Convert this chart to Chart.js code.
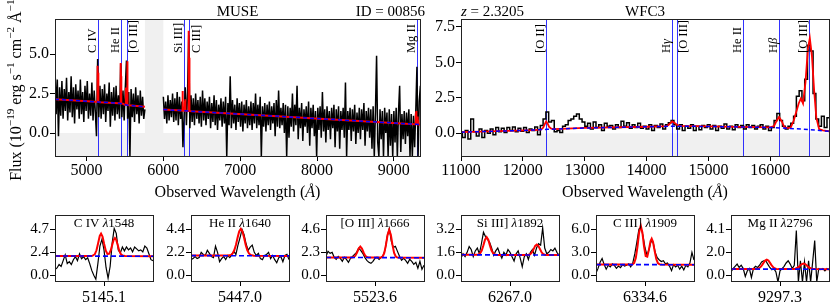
<!DOCTYPE html>
<html>
<head>
<meta charset="utf-8">
<script src="https://cdn.jsdelivr.net/npm/chart.js@4.4.1/dist/chart.umd.min.js"></script>
<style>
  body { margin: 0; background: #fff; width: 831px; height: 307px; overflow: hidden; position: relative; }
</style>
</head>
<body>
<script>
// ---------- data ----------
const museStartA = 4590, museStartB = 6000, museStep = 15;
const museFluxA = [
  4.3, 1.2, 3.4, -0.2, 2.9, 1.1, 3.3, 0.9, 2.8, 1.4,
  3.5, 0.8, 2.6, 1.3, 3.6, 1.0, 2.9, 0.6, 3.1, 1.5,
  2.7, 0.9, 3.4, 1.2, 2.6, 0.7, 3.0, 1.4, 3.3, 0.9,
  2.5, 1.1, 3.2, 0.8, 2.7, 1.3, -0.2, 4.7, 1.0, 3.0,
  0.9, 2.8, 1.2, 3.1, 0.7, 2.5, 1.4, 3.2, 0.4, 2.6,
  1.1, 2.9, 0.8, 3.0, 1.2, 2.4, 0.9, 4.4, 1.0, 2.7,
  0.8, 2.9, 4.6, 0.9, 2.6, -1.5, 2.8, 1.0, 2.5, 0.7,
  2.9, 1.2, 2.4, 0.6, 2.7, 1.1, 2.3, 0.9, 1.5
];
const museFluxB = [
  2.3, 0.9, 2.0, 0.6, 2.4, 0.8, 2.1, 1.0, 2.5, 0.7,
  2.2, 0.8, 2.6, 0.5, 2.3, 0.9, 2.0, -0.9, 1.1, 2.9,
  0.5, 2.6, 6.2, 0.3, 2.4, 0.7, 2.2, 0.5, 2.5, 0.9,
  2.1, 0.6, 2.3, 0.4, 2.7, 0.8, 2.2, 0.5, 2.0, 0.9,
  2.3, 0.3, 1.9, 0.7, 2.4, 0.5, 2.1, 0.2, 1.8, 0.8,
  2.2, 0.4, 2.0, 0.6, 2.3, -1.5, 1.9, 0.5, 3.6, 0.3,
  2.1, 0.6, 1.8, 0.2, 2.2, 0.7, 1.9, 0.4, 2.0, 0.1,
  1.8, 0.6, 2.1, 0.3, 1.7, 0.5, 2.0, 0.2, 1.9, 0.6,
  2.5, 0.3, 1.8, 0.5, 2.3, -1.5, 1.7, 0.4, 1.9, 0.1,
  1.8, 0.5, 2.0, 0.2, 1.7, 0.6, 1.9, -0.2, 2.1, 0.4,
  2.7, 0.3, 1.6, 0.5, 1.9, 0.0, 1.8, -1.5, 1.7, -0.3,
  1.6, 0.4, 2.5, 0.1, 1.8, 0.5, 3.0, -0.4, 1.6, 0.3,
  1.9, -0.5, 1.5, 0.4, 1.7, 0.0, 2.0, -0.8, 1.6, 0.3,
  1.8, -0.2, 1.4, -1.5, 1.6, 0.2, 1.7, -0.3, 2.6, 0.1,
  1.5, -0.6, 1.7, 0.2, 1.4, -0.4, 1.6, 0.3, 1.8, -0.9,
  1.5, 0.1, 1.7, -1.0, 1.4, 0.2, 1.6, -0.3, 3.2, -1.5,
  1.4, 0.2, 1.6, -0.5, 1.5, 0.1, 1.8, -0.7, 1.3, 0.0,
  1.6, -0.4, 1.5, 0.2, 1.9, -0.8, 1.4, 0.1, 1.6, -0.3,
  1.5, -1.0, 1.7, -1.5, 1.3, 4.9, -0.6, -1.5, 1.5, -0.4,
  1.4, -1.5, 1.6, 0.0, 1.3, -1.5, 1.5, -0.8, 1.2, -1.5,
  1.4, -0.6, 1.6, -1.5, 1.3, 3.0, -1.2, 1.2, -0.4, 1.4,
  -0.7, 1.3, -0.2, 1.5, -1.5, 1.2, -1.5, 1.1, -0.9, 1.4,
  4.2, -1.5, 2.0, 3.0
];
const museCont = [[4590, 2.15], [5145.1, 1.97], [5447.0, 1.88], [5523.6, 1.78], [5760, 1.66], [5880, null],
  [6000, 1.49], [6267.0, 1.42], [6334.6, 1.39], [9297.3, 0.55], [9345, 0.54]];
const museLines = [5145.1, 5447.0, 5523.6, 6267.0, 6334.6, 9297.3];
const museLineNames = ['C IV', 'He II', '[O III]', 'Si III]', 'C III]', 'Mg II'];
const museLabelSide = ['l', 'l', 'r', 'l', 'r', 'l'];

const wfc3Start = 11000, wfc3Step = 45;
const wfc3Flux = [
  0.1, -0.3, 0.2, -0.4, 1.0, 0.1, -0.2, 0.3, -0.3, 0.2,
  0.0, 0.3, -0.1, 0.4, 0.1, 0.35, 0.05, 0.4, 0.2, 0.45,
  0.1, 0.35, 0.15, 0.4, 0.05, 0.3, 0.2, 0.45, -0.1, 0.55,
  1.0, 1.5, 0.8, 0.9, 0.1, 0.2, 0.05, 0.5, 0.6, 0.9,
  1.0, 1.2, 1.35, 1.0, 0.8, 0.5, 0.7, 0.3, 0.8, 0.4,
  0.6, 0.2, 0.7, 0.5, 0.55, 0.3, 0.6, 0.4, 0.85, 0.5,
  0.75, 0.35, 0.6, 0.4, 0.7, 0.35, 0.5, 0.3, 0.6, 0.2,
  0.55, 0.4, 0.65, 0.3, 0.6, 0.75, 0.9, 0.6, 0.3, 0.6,
  0.2, 0.5, 0.35, 0.6, 0.2, 0.5, 0.25, 0.55, 0.4, 0.6,
  0.3, 0.55, 0.2, 0.5, 0.35, 0.65, 0.3, 0.5, 0.25, 0.6,
  0.4, 0.55, 0.3, 0.6, 0.4, 0.55, 0.3, 0.5, 0.6, 0.3,
  0.5, 0.2, 0.4, 0.9, 1.4, 0.9, 0.5, 0.3, 0.5, 0.7,
  1.2, 2.6, 3.0, 2.3, 3.8, 6.2, 5.8, 2.8, 1.0, 0.5,
  1.2, 0.4, 1.1, -0.3
];
const wfc3Model = [[11000, 0.08], [12200, 0.22], [12300, 0.27], [12330, 0.4], [12355, 0.65], [12376, 0.84],
  [12400, 0.7], [12425, 0.45], [12460, 0.32], [12500, 0.3], [13000, 0.38], [14000, 0.46], [14330, 0.5],
  [14370, 0.65], [14414, 0.84], [14450, 0.75], [14490, 0.6], [14540, 0.52], [15000, 0.49], [15500, 0.45],
  [16000, 0.41], [16060, 0.5], [16100, 0.85], [16142, 1.15], [16185, 0.85], [16225, 0.45], [16270, 0.36],
  [16330, 0.4], [16380, 0.9], [16420, 1.5], [16460, 2.1], [16495, 2.45], [16530, 2.1], [16570, 3.6],
  [16610, 6.0], [16640, 6.7], [16675, 5.4], [16710, 3.0], [16745, 1.1], [16790, 0.3], [16850, 0.2], [16960, 0.14]];
const wfc3Cont = [[11000, 0.08], [12000, 0.2], [12400, 0.28], [13000, 0.37], [14000, 0.46], [14500, 0.5],
  [15000, 0.48], [15500, 0.45], [16000, 0.41], [16500, 0.3], [16960, 0.14]];
const wfc3Lines = [12376, 14414, 14488, 15560, 16142, 16626];
const wfc3LineNames = ['[O II]', 'H*γ*', '[O III]', 'He II', 'H*β*', '[O III]'];
const wfc3LabelSide = ['l', 'l', 'r', 'l', 'l', 'l'];

const museXTicks = [5000, 6000, 7000, 8000, 9000];
const museYTicks = [0, 2.5, 5.0];
const wfc3XTicks = [11000, 12000, 13000, 14000, 15000, 16000];
const wfc3YTicks = [0, 2.5, 5.0, 7.5];

// zoom panels: +-30 A around each line, MUSE sampling 1.25 A
const panelCenters = [5145.1, 5447.0, 5523.6, 6267.0, 6334.6, 9297.3];
const panelTitles = ['C IV *λ*1548', 'He II *λ*1640', '[O III] *λ*1666', 'Si III] *λ*1892', 'C III] *λ*1909', 'Mg II *λ*2796'];
const panelYTicks = [[0, 2.35, 4.7], [0, 2.2, 4.4], [0, 2.3, 4.6], [0, 1.6, 3.2], [0, 3.0, 6.0], [0, 2.05, 4.1]];
const panelCont = [[1.98, 1.95], [1.89, 1.86], [1.79, 1.76], [1.43, 1.41], [1.40, 1.38], [0.56, 0.54]];
const panelStep = 1.25, panelHalf = 30;

const civFlux = [0.6, 0.75, 1.1, 0.9, 1.5, 2.1, 1.2, 1.4, 1.1, 1.6, 1.9, 1.5, 2.2, 1.7, 1.9, 1.6, 1.8, 1.2, 0.5, 0.0,
  -0.4, 1.2, 3.0, 3.7, 2.6, 0.8, -0.3, 0.9, 3.3, 4.8, 4.3, 2.6, 2.3, 2.9, 2.5, 2.9, 2.6, 2.8, 2.4, 2.9,
  2.7, 2.5, 2.6, 2.4, 3.0, 2.8, 2.2, 1.6, 1.5];
const heiiFlux = [1.5, 1.6, 1.8, 1.6, 1.7, 2.2, 2.0, 1.9, 2.4, 2.1, 1.8, 1.7, 2.8, 2.2, 1.3, 1.6, 1.8, 1.5, 1.9, 1.7,
  2.0, 2.3, 2.0, 2.9, 3.6, 4.4, 3.9, 3.0, 2.4, 2.7, 2.9, 2.2, 1.9, 2.1, 1.6, 1.5, 1.9, 2.0, 2.2, 1.6,
  1.9, 1.5, 1.2, 1.7, 1.8, 1.3, 1.9, 2.0, 1.5];
const oiiiFlux = [1.9, 2.4, 2.2, 2.3, 1.8, 1.6, 1.9, 1.7, 1.4, 1.8, 1.6, 1.3, 1.7, 1.9, 2.1, 2.3, 2.7, 2.5, 2.2, 1.8,
  1.5, 1.3, 1.2, 1.4, 1.7, 1.8, 1.6, 1.8, 2.0, 2.6, 3.9, 4.7, 3.4, 2.8, 2.9, 2.4, 1.9, 1.5, 1.7, 1.5,
  1.2, 1.6, 1.4, 1.1, 1.3, 0.7, 1.4, 0.6, 1.0];
const siiiiFlux = [1.2, 1.5, 1.3, 1.6, 2.0, 1.8, 1.3, 1.7, 1.9, 1.5, 2.2, 3.0, 2.7, 2.5, 2.3, 1.9, 1.4, 1.7, 1.9, 1.5,
  1.2, 1.6, 1.4, 1.8, 1.6, 1.3, 1.0, 1.5, 1.7, 1.2, 0.6, 1.3, 1.5, 1.1, 1.6, 1.8, 1.4, 1.9, 2.2, 2.1,
  3.3, 1.9, 1.5, 1.6, 1.8, 1.7, 1.9, 1.6, 1.4];
const ciiiFlux = [0.3, 0.9, 1.7, 2.2, 1.4, 0.8, 1.3, 1.1, 1.5, 1.3, 0.9, 1.2, 1.0, 1.4, 1.2, 1.3, 1.5, 1.1, 1.6, 2.8,
  4.3, 6.0, 6.3, 5.2, 3.6, 2.6, 3.4, 4.5, 4.3, 3.0, 2.3, 2.0, 1.8, 1.9, 1.5, 1.6, 1.2, 0.6, 1.4, 1.1,
  1.3, 0.8, 1.2, 0.7, 1.3, 1.1, 1.6, 3.0, 2.0];
const mgiiFlux = [0.3, 0.6, 0.8, 1.0, 0.7, 0.9, 0.6, -0.1, 0.4, 0.6, -0.2, 0.6, 0.8, 0.7, 0.9, 1.2, 1.3, 1.3, 1.0, 0.7,
  0.5, 0.6, 0.3, -0.6, 0.4, 0.6, 0.8, 1.1, 1.3, 1.0, 0.6, 0.9, 4.0, -0.6, 1.3, -0.6, 1.2, -0.6, 1.3, -0.6,
  1.2, 3.1, -0.6, 0.6, 0.5, 0.6, 0.4, 0.6, 0.5];

const civModel = [[5115.1, 1.98], [5136, 1.97], [5138, 1.99], [5139.5, 2.16], [5140.5, 2.56], [5141.5, 3.28],
  [5142.5, 4.03], [5143.3, 4.27], [5144.2, 3.97], [5145.2, 3.2], [5146.2, 2.52], [5147.2, 2.18], [5148.2, 2.2],
  [5149.2, 2.55], [5150.2, 3.16], [5151.0, 3.63], [5151.8, 3.82], [5152.6, 3.63], [5153.4, 3.16], [5154.4, 2.54],
  [5155.4, 2.17], [5156.4, 2.02], [5158, 1.97], [5175.1, 1.95]];
const heiiModel = [[5417, 1.89], [5439.5, 1.89], [5441.5, 1.95], [5442.5, 2.1], [5443.5, 2.4], [5444.5, 2.9],
  [5445.5, 3.6], [5446.5, 4.2], [5447.5, 4.45], [5448.5, 4.2], [5449.5, 3.6], [5450.5, 2.9], [5451.5, 2.4],
  [5452.5, 2.1], [5453.5, 1.95], [5455.5, 1.88], [5477, 1.86]];
const oiiiModel = [[5493.6, 1.79], [5509.6, 1.79], [5510.6, 1.83], [5511.6, 1.97], [5512.6, 2.29], [5513.6, 2.68],
  [5514.6, 2.88], [5515.6, 2.68], [5516.6, 2.29], [5517.6, 1.97], [5518.6, 1.83], [5519.6, 1.79], [5527.3, 1.78],
  [5528.3, 1.88], [5529.3, 2.24], [5530.3, 3.05], [5531.3, 4.06], [5532.3, 4.56], [5533.3, 4.06], [5534.3, 3.05],
  [5535.3, 2.24], [5536.3, 1.88], [5537.3, 1.78], [5553.6, 1.76]];
const siiiiModel = [[6237, 1.43], [6246.7, 1.43], [6247.7, 1.45], [6248.7, 1.53], [6249.7, 1.73], [6250.7, 2.09],
  [6251.7, 2.48], [6252.7, 2.66], [6253.7, 2.48], [6254.7, 2.09], [6255.7, 1.73], [6256.7, 1.53], [6257.7, 1.45],
  [6259, 1.42], [6277.4, 1.42], [6278.4, 1.43], [6279.4, 1.48], [6280.4, 1.6], [6281.4, 1.81], [6282.4, 2.05],
  [6283.4, 2.14], [6284.4, 2.05], [6285.4, 1.81], [6286.4, 1.6], [6287.4, 1.48], [6288.4, 1.43], [6289.4, 1.42],
  [6297, 1.41]];
const ciiiModel = [[6304.6, 1.40], [6326, 1.40], [6327, 1.44], [6328, 1.62], [6329, 2.28], [6330, 3.74], [6331, 5.6],
  [6332, 6.5], [6333, 5.6], [6334, 3.79], [6335, 2.51], [6336, 2.43], [6337, 3.36], [6338, 4.47], [6338.7, 4.78],
  [6339.5, 4.38], [6340.5, 3.19], [6341.5, 2.13], [6342.5, 1.6], [6343.5, 1.44], [6345, 1.4], [6364.6, 1.38]];
const mgiiModel = [[9267.3, 0.56], [9282.2, 0.56], [9283.2, 0.57], [9284.2, 0.61], [9285.2, 0.71], [9286.2, 0.89],
  [9287.2, 1.11], [9288.2, 1.32], [9289.2, 1.4], [9290.2, 1.32], [9291.2, 1.11], [9292.2, 0.89], [9293.2, 0.71],
  [9294.2, 0.61], [9295.2, 0.57], [9296.2, 0.55], [9304.7, 0.55], [9305.7, 0.56], [9306.7, 0.59], [9307.7, 0.65],
  [9308.7, 0.75], [9309.7, 0.88], [9310.7, 1.0], [9311.7, 1.05], [9312.7, 1.0], [9313.7, 0.88], [9314.7, 0.75],
  [9315.7, 0.65], [9316.7, 0.59], [9317.7, 0.56], [9318.7, 0.55], [9327.3, 0.54]];

const panelFlux = [civFlux, heiiFlux, oiiiFlux, siiiiFlux, ciiiFlux, mgiiFlux];
const panelModel = [civModel, heiiModel, oiiiModel, siiiiModel, ciiiModel, mgiiModel];

// ---------- drawing ----------
Chart.defaults.font.family = "'Liberation Serif', 'DejaVu Serif', serif";
Chart.defaults.color = '#000';
const FONT = "'Liberation Serif', 'DejaVu Serif', serif";

// '*' toggles italic, '^' toggles superscript
function drawText(ctx, str, x, y, size, align, baseline) {
  const segs = [];
  let it = false, sup = false, buf = '';
  const push = () => { if (buf) segs.push({ t: buf, it, sup }); buf = ''; };
  for (const ch of str) {
    if (ch === '*') { push(); it = !it; }
    else if (ch === '^') { push(); sup = !sup; }
    else buf += ch;
  }
  push();
  const font = s => (s.it ? 'italic ' : '') + (s.sup ? size * 0.7 : size) + 'px ' + FONT;
  let w = 0;
  segs.forEach(s => { ctx.font = font(s); s.w = ctx.measureText(s.t).width; w += s.w; });
  let cx = align === 'center' ? x - w / 2 : align === 'right' ? x - w : x;
  ctx.textAlign = 'left';
  ctx.textBaseline = baseline || 'alphabetic';
  segs.forEach(s => {
    ctx.font = font(s);
    ctx.fillText(s.t, cx, s.sup ? y - size * 0.42 : y);
    cx += s.w;
  });
}

function deco(o) {
  return {
    id: 'deco',
    beforeDatasetsDraw(chart) {
      const { ctx, chartArea: a, scales: { x, y } } = chart;
      ctx.save();
      ctx.beginPath(); ctx.rect(a.left, a.top, a.width, a.height); ctx.clip();
      ctx.fillStyle = '#f0f0f0';
      (o.shade || []).forEach(([x0, x1, y0, y1]) => {
        const l = x.getPixelForValue(x0), r = x.getPixelForValue(x1);
        const t = y.getPixelForValue(y1), b = y.getPixelForValue(y0);
        ctx.fillRect(l, t, r - l, b - t);
      });
      ctx.strokeStyle = 'rgba(0, 0, 255, 0.8)';
      ctx.lineWidth = 1;
      (o.lines || []).forEach(w => {
        const px = Math.round(x.getPixelForValue(w)) + 0.5;
        ctx.beginPath(); ctx.moveTo(px, a.top); ctx.lineTo(px, a.bottom); ctx.stroke();
      });
      ctx.restore();
    },
    afterDatasetsDraw(chart) {
      const { ctx, chartArea: a, scales: { x } } = chart;
      const mid = (a.left + a.right) / 2;
      ctx.save();
      ctx.fillStyle = '#000';
      (o.lines || []).forEach((w, i) => {
        const px = x.getPixelForValue(w);
        const right = o.sides[i] === 'r';
        ctx.save();
        ctx.translate(right ? px + 1 : px - 2, a.top + 34);
        ctx.rotate(-Math.PI / 2);
        drawText(ctx, o.names[i], 0, 0, 12.5, 'left', right ? 'top' : 'alphabetic');
        ctx.restore();
      });
      ctx.strokeStyle = '#222';
      ctx.lineWidth = 1;
      ctx.strokeRect(a.left + 0.5, a.top + 0.5, a.width, a.height);
      (o.heads || []).forEach(([s, al, dx]) => {
        const hx = al === 'center' ? mid : al === 'right' ? a.right + (dx || 0) : a.left;
        drawText(ctx, s, hx, a.top - 3.5, 15, al);
      });
      if (o.inner) drawText(ctx, o.inner, mid, a.top + 11.5, 13, 'center');
      if (o.xTitle) drawText(ctx, 'Observed Wavelength (*Å*)', mid, a.bottom + 40.5, 16, 'center');
      if (o.yTitle) {
        ctx.save();
        ctx.translate(21, (a.top + a.bottom) / 2);
        ctx.rotate(-Math.PI / 2);
        drawText(ctx, 'Flux (10^−19^ erg s^−1^ cm^−2^ Å^−1^)', 0, 0, 16, 'center');
        ctx.restore();
      }
      ctx.restore();
    }
  };
}

const line = (pts, color, width, dash, stepped) => ({
  data: pts.map(([x, y]) => ({ x, y })),
  borderColor: color, borderWidth: width, borderDash: dash || [],
  pointRadius: 0, fill: false, tension: 0, stepped: stepped || false,
  spanGaps: false, clip: 0
});

function makeChart(o) {
  const c = document.createElement('canvas');
  c.width = o.w; c.height = o.h;
  c.style.cssText = `position:absolute;left:${o.left}px;top:${o.top}px;width:${o.w}px;height:${o.h}px`;
  document.body.appendChild(c);
  new Chart(c, {
    type: 'line',
    data: { datasets: o.datasets },
    options: {
      responsive: false, animation: false, events: [],
      layout: { padding: { top: o.padTop, right: o.padRight, left: 0, bottom: 0 } },
      plugins: { legend: { display: false }, tooltip: { enabled: false } },
      scales: {
        x: {
          type: 'linear', min: o.xr[0], max: o.xr[1],
          afterBuildTicks: s => { s.ticks = o.xt.map(v => ({ value: v })); },
          afterFit: s => { s.height = o.xh; },
          ticks: { callback: o.xf, font: { size: 16 }, color: '#000', padding: o.xp, maxRotation: 0, autoSkip: false },
          grid: { drawOnChartArea: false, tickLength: 5, color: '#000' },
          border: { display: false }
        },
        y: {
          type: 'linear', min: o.yr[0], max: o.yr[1],
          afterBuildTicks: s => { s.ticks = o.yt.map(v => ({ value: v })); },
          afterFit: s => { s.width = o.yw; },
          ticks: { callback: v => v.toFixed(1), font: { size: o.yfs }, color: '#000', padding: 1 },
          grid: { drawOnChartArea: false, tickLength: 5, color: '#000' },
          border: { display: false }
        }
      }
    },
    plugins: [deco(o)]
  });
}

// MUSE overview
const museSpec = [
  ...museFluxA.map((f, i) => [museStartA + i * museStep, f]),
  [5880, null],
  ...museFluxB.map((f, i) => [museStartB + i * museStep, f])
];
const museModel = [[4590, 2.15], ...civModel, ...heiiModel, ...oiiiModel, [5760, 1.66], [5880, null],
  [6000, 1.49], ...siiiiModel, ...ciiiModel, ...mgiiModel, [9345, 0.54]];
makeChart({
  left: 0, top: 0, w: 428, h: 201, padTop: 19, padRight: 8, yw: 55, xh: 45,
  xr: [4590, 9340], yr: [-1.46, 7.24], xt: museXTicks, yt: museYTicks, xf: v => String(v), xp: 0, yfs: 16,
  datasets: [
    line(museCont, '#0000ff', 1.5, [4, 3]),
    line(museModel, '#ff0000', 2),
    line(museSpec, '#000', 1.5)
  ],
  shade: [[4590, 9340, -1.46, 0], [5760, 6000, 0, 7.24]],
  lines: museLines, names: museLineNames, sides: museLabelSide,
  heads: [['MUSE', 'center'], ['ID = 00856', 'right', 5]], xTitle: true, yTitle: true
});

// WFC3 overview
makeChart({
  left: 421, top: 0, w: 410, h: 201, padTop: 19, padRight: 2, yw: 40, xh: 45,
  xr: [11000, 16950], yr: [-1.6, 8.05], xt: wfc3XTicks, yt: wfc3YTicks, xf: v => String(v), xp: 0, yfs: 16,
  datasets: [
    line(wfc3Cont, '#0000ff', 1.5, [4, 3]),
    line(wfc3Model, '#ff0000', 1.8),
    line(wfc3Flux.map((f, i) => [wfc3Start + i * wfc3Step, f]), '#000', 1.5, null, 'middle')
  ],
  shade: [[11000, 16950, -1.6, 0]],
  lines: wfc3Lines, names: wfc3LineNames, sides: wfc3LabelSide,
  heads: [['*z* = 2.3205', 'left'], ['WFC3', 'center']], xTitle: true
});

// line zooms
const panelLefts = [55, 191, 326, 461, 596, 731];
panelCenters.forEach((c, k) => {
  const a = panelYTicks[k][2];
  makeChart({
    left: panelLefts[k] - 40, top: 205, w: 141, h: 102, padTop: 2, padRight: 3, yw: 40, xh: 26,
    xr: [c - panelHalf, c + panelHalf], yr: [-0.125 * a, 1.315 * a],
    xt: [c], yt: panelYTicks[k], xf: v => v.toFixed(1), xp: 2, yfs: 15,
    datasets: [
      line([[c - panelHalf, panelCont[k][0]], [c + panelHalf, panelCont[k][1]]], '#0000ff', 1.6, [5, 3]),
      line(panelModel[k], '#ff0000', 2),
      line(panelFlux[k].map((f, i) => [c - panelHalf + i * panelStep, f]), '#000', 1.2)
    ],
    inner: panelTitles[k]
  });
});
</script>
</body>
</html>
